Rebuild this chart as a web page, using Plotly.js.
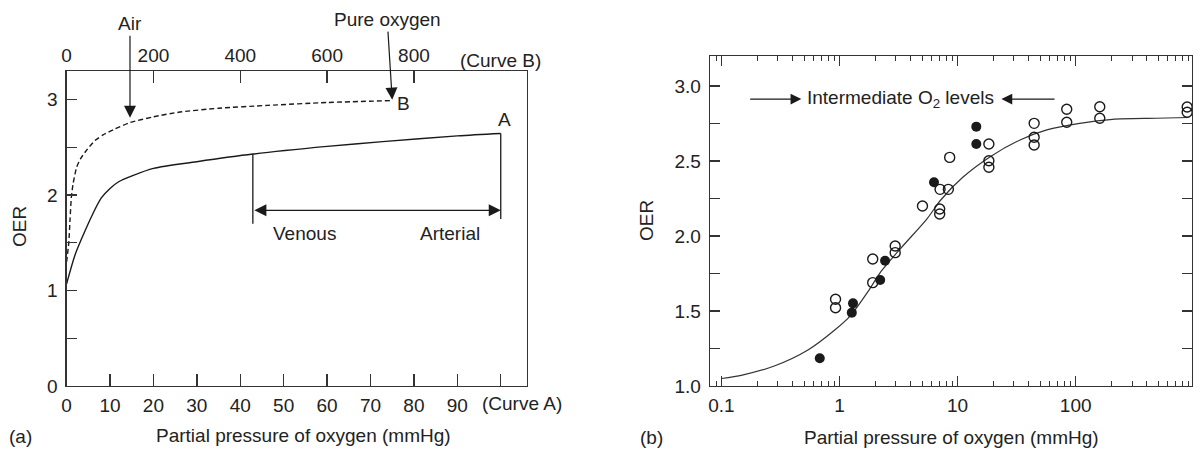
<!DOCTYPE html>
<html>
<head>
<meta charset="utf-8">
<script src="https://cdn.plot.ly/plotly-3.0.1.min.js"></script>
<style>html,body{margin:0;padding:0;background:#fff;}#chart{width:1200px;height:450px;}</style>
</head>
<body>
<div id="chart"></div>
<script>
// ---------- Panel (a) data ----------
const curveAP   = [0, 2, 4, 6, 8, 10, 12, 15, 20, 30, 42.9, 60, 72.8, 90, 100];           // mmHg (Curve A, bottom axis)
const curveAOER = [1.07, 1.38, 1.6, 1.8, 1.97, 2.07, 2.14, 2.2, 2.28, 2.35, 2.43, 2.51, 2.56, 2.62, 2.645];
const curveBP   = [0, 5, 8, 11, 15, 23, 32, 46, 65, 84, 110, 146, 200, 261, 350, 463, 600, 750]; // mmHg (Curve B, top axis)
const curveBOER = [1.3, 1.5, 1.75, 1.98, 2.12, 2.29, 2.38, 2.47, 2.57, 2.63, 2.69, 2.76, 2.82, 2.87, 2.91, 2.94, 2.97, 2.99];
const bottomTicks = [0, 10, 20, 30, 40, 50, 60, 70, 80, 90, 100];
const bottomLabels = ['0','10','20','30','40','50','60','70','80','90',''];
const topTicks = [0, 200, 400, 600, 800];
const topLabels = ['0','200','400','600','800'];
const leftYTicks = [0, 0.5, 1, 1.5, 2, 2.5, 3];
const leftYLabels = ['0','','1','','2','','3'];
const venousP = 42.9, arterialP = 100;
const venousLineBottom = 1.70, arterialLineBottom = 1.75, rangeArrowOER = 1.84;
const airP = 146, airOER = 2.81, pureO2P = 750, pureO2OER = 3.0;

// ---------- Panel (b) data ----------
const fitP   = [0.1, 0.15, 0.28, 0.54, 0.91, 1.25, 1.74, 2.24, 3.3, 5.55, 7.2, 11, 18.9, 33.8, 57, 108, 205, 480, 900];
const fitOER = [1.05, 1.073, 1.133, 1.24, 1.373, 1.473, 1.629, 1.762, 1.918, 2.118, 2.24, 2.39, 2.529, 2.64, 2.707, 2.751, 2.778, 2.785, 2.79];
const openP   = [0.925, 0.925, 1.91, 1.91, 2.96, 2.96, 5.04, 7.05, 7.05, 7.1, 8.35, 8.57, 18.4, 18.4, 18.4, 44.5, 44.5, 44.5, 84, 84, 160, 160, 880, 880];
const openOER = [1.578, 1.522, 1.689, 1.847, 1.933, 1.889, 2.2, 2.18, 2.147, 2.311, 2.311, 2.524, 2.613, 2.502, 2.458, 2.751, 2.658, 2.607, 2.845, 2.758, 2.862, 2.785, 2.86, 2.825];
const filledP   = [0.68, 1.27, 1.30, 2.21, 2.43, 6.31, 14.4, 14.4];
const filledOER = [1.185, 1.489, 1.551, 1.707, 1.835, 2.358, 2.729, 2.613];
const logMajor = [0.1, 1, 10, 100];
const logMajorLabels = ['0.1', '1', '10', '100'];
const logMinor = [0.08, 0.09, 0.2,0.3,0.4,0.5,0.6,0.7,0.8,0.9, 2,3,4,5,6,7,8,9, 20,30,40,50,60,70,80,90, 200,300,400,500,600,700,800,900];
const rightYTicks = [1, 1.25, 1.5, 1.75, 2, 2.25, 2.5, 2.75, 3];
const rightYLabels = ['1.0','','1.5','','2.0','','2.5','','3.0'];
const intermP = 3.31, intermOER = 2.913;
const leftArrowFrom = 0.17, leftArrowTo = 0.475, rightArrowFrom = 68.2, rightArrowTo = 23.5;

const FONT = 'Liberation Sans, Arial, Helvetica, sans-serif';
const INK = '#1a1a1a';
const AX = '#333';
const L = Math.log10;

const traces = [
  {x: curveAP, y: curveAOER, xaxis: 'x', yaxis: 'y', mode: 'lines',
   line: {color: INK, width: 1.4, shape: 'spline', smoothing: 0.8}, hoverinfo: 'skip'},
  {x: curveBP, y: curveBOER, xaxis: 'x2', yaxis: 'y', mode: 'lines',
   line: {color: INK, width: 1.4, dash: '5px,3px', shape: 'spline', smoothing: 0.6}, hoverinfo: 'skip'},
  {x: fitP, y: fitOER, xaxis: 'x3', yaxis: 'y3', mode: 'lines',
   line: {color: '#333', width: 1.2, shape: 'spline', smoothing: 0.8}, hoverinfo: 'skip'},
  {x: openP, y: openOER, xaxis: 'x3', yaxis: 'y3', mode: 'markers',
   marker: {symbol: 'circle-open', size: 10, color: INK, line: {width: 1.4, color: INK}}},
  {x: filledP, y: filledOER, xaxis: 'x3', yaxis: 'y3', mode: 'markers',
   marker: {symbol: 'circle', size: 10, color: INK}}
];

const tickFont = {family: FONT, size: 19, color: '#222'};
const annFont = {family: FONT, size: 19, color: '#222'};
const C = {xanchor: 'center', yanchor: 'middle', showarrow: false, font: annFont};

const layout = {
  width: 1200, height: 450,
  margin: {l: 0, r: 0, t: 0, b: 0},
  paper_bgcolor: '#fff', plot_bgcolor: '#fff',
  showlegend: false,
  font: {family: FONT, size: 19, color: '#222'},
  xaxis: {domain: [0.0555, 0.439], anchor: 'y', range: [0, 106], showgrid: false, zeroline: false,
          showline: true, linecolor: AX, linewidth: 1.3, ticks: 'inside', ticklen: 12, tickwidth: 1.3, tickcolor: AX,
          tickmode: 'array', tickvals: bottomTicks, ticktext: bottomLabels, tickfont: tickFont, ticklabelstandoff: 2},
  xaxis2: {overlaying: 'x', side: 'top', anchor: 'y', range: [0, 1060], showgrid: false, zeroline: false,
           showline: true, linecolor: AX, linewidth: 1.3, ticks: 'inside', ticklen: 12, tickwidth: 1.3, tickcolor: AX,
           tickmode: 'array', tickvals: topTicks, ticktext: topLabels, tickfont: tickFont, ticklabelstandoff: 0},
  yaxis: {domain: [0.1422, 0.8422], anchor: 'x', range: [0, 3.3], showgrid: false, zeroline: false,
          showline: true, mirror: true, linecolor: AX, linewidth: 1.3, ticks: 'inside', ticklen: 10, tickwidth: 1.3, tickcolor: AX,
          tickmode: 'array', tickvals: leftYTicks, ticktext: leftYLabels, tickfont: tickFont, ticklabelstandoff: 4},
  xaxis3: {domain: [0.5917, 0.9933], anchor: 'y3', type: 'log', range: [L(0.08), 2.985], showgrid: false, zeroline: false,
           showline: true, mirror: 'allticks', linecolor: AX, linewidth: 1.3, ticks: 'inside', ticklen: 10, tickwidth: 1.3, tickcolor: AX,
           tickmode: 'array', tickvals: logMajor, ticktext: logMajorLabels, tickfont: tickFont, ticklabelstandoff: 2,
           minor: {tickmode: 'array', tickvals: logMinor, ticks: 'inside', ticklen: 5, tickwidth: 1, tickcolor: AX, showgrid: false}},
  yaxis3: {domain: [0.1422, 0.8756], anchor: 'x3', range: [1, 3.2], showgrid: false, zeroline: false,
           showline: true, mirror: 'allticks', linecolor: AX, linewidth: 1.3, ticks: 'inside', ticklen: 10, tickwidth: 1.3, tickcolor: AX,
           tickmode: 'array', tickvals: rightYTicks, ticktext: rightYLabels, tickfont: tickFont, ticklabelstandoff: 4},
  shapes: [
    {type: 'line', xref: 'x', yref: 'y', x0: venousP, x1: venousP, y0: venousLineBottom,
     y1: curveAOER[curveAP.indexOf(venousP)], line: {color: INK, width: 1.3}},
    {type: 'line', xref: 'x', yref: 'y', x0: arterialP, x1: arterialP, y0: arterialLineBottom,
     y1: curveAOER[curveAP.indexOf(arterialP)], line: {color: INK, width: 1.3}}
  ],
  annotations: [
    // double arrow venous <-> arterial
    {xref: 'x', yref: 'y', axref: 'x', ayref: 'y', x: arterialP, y: rangeArrowOER, ax: venousP, ay: rangeArrowOER,
     text: '', showarrow: true, arrowside: 'end+start', arrowhead: 2, arrowsize: 2, arrowwidth: 1.2, arrowcolor: INK, standoff: 0, startstandoff: 0},
    Object.assign({xref: 'x', yref: 'y', x: 54.7, y: 1.60, text: 'Venous'}, C),
    Object.assign({xref: 'x', yref: 'y', x: 88.3, y: 1.60, text: 'Arterial'}, C),
    Object.assign({xref: 'x', yref: 'y', x: 100.8, y: 2.79, text: 'A'}, C),
    Object.assign({xref: 'x2', yref: 'y', x: 777, y: 2.96, text: 'B'}, C),
    {xref: 'x2', yref: 'y', x: airP, y: airOER, text: 'Air', showarrow: true, ax: 0, ay: -94,
     arrowhead: 2, arrowsize: 2, arrowwidth: 1.2, arrowcolor: INK, standoff: 0, font: annFont},
    {xref: 'x2', yref: 'y', x: pureO2P, y: pureO2OER, text: 'Pure oxygen', showarrow: true, ax: -5, ay: -80,
     arrowhead: 2, arrowsize: 2, arrowwidth: 1.2, arrowcolor: INK, standoff: 0, font: annFont},
    Object.assign({xref: 'x2', yref: 'paper', x: 1000, y: 1 - 61/450, text: '(Curve B)'}, C),
    Object.assign({xref: 'x', yref: 'paper', x: 105, y: 1 - 403/450, text: '(Curve A)'}, C),
    Object.assign({xref: 'paper', yref: 'paper', x: 303/1200, y: 1 - 435/450, text: 'Partial pressure of oxygen (mmHg)'}, C),
    Object.assign({xref: 'paper', yref: 'paper', x: 20/1200, y: 1 - 436/450, text: '(a)'}, C),
    Object.assign({xref: 'paper', yref: 'paper', x: 19/1200, y: 1 - 227/450, text: 'OER', textangle: -90}, C),
    // panel b
    Object.assign({xref: 'x3', yref: 'y3', x: L(intermP), y: intermOER, text: 'Intermediate O<sub>2</sub> levels'}, C),
    {xref: 'x3', yref: 'y3', axref: 'x3', ayref: 'y3', x: L(leftArrowTo), y: intermOER, ax: L(leftArrowFrom), ay: intermOER,
     text: '', showarrow: true, arrowhead: 2, arrowsize: 1.8, arrowwidth: 1.2, arrowcolor: INK, standoff: 0},
    {xref: 'x3', yref: 'y3', axref: 'x3', ayref: 'y3', x: L(rightArrowTo), y: intermOER, ax: L(rightArrowFrom), ay: intermOER,
     text: '', showarrow: true, arrowhead: 2, arrowsize: 1.8, arrowwidth: 1.2, arrowcolor: INK, standoff: 0},
    Object.assign({xref: 'paper', yref: 'paper', x: 951/1200, y: 1 - 437/450, text: 'Partial pressure of oxygen (mmHg)'}, C),
    Object.assign({xref: 'paper', yref: 'paper', x: 651/1200, y: 1 - 437/450, text: '(b)'}, C),
    Object.assign({xref: 'paper', yref: 'paper', x: 647/1200, y: 1 - 221/450, text: 'OER', textangle: -90}, C)
  ]
};

Plotly.newPlot('chart', traces, layout, {staticPlot: true, displayModeBar: false});
</script>
</body>
</html>
